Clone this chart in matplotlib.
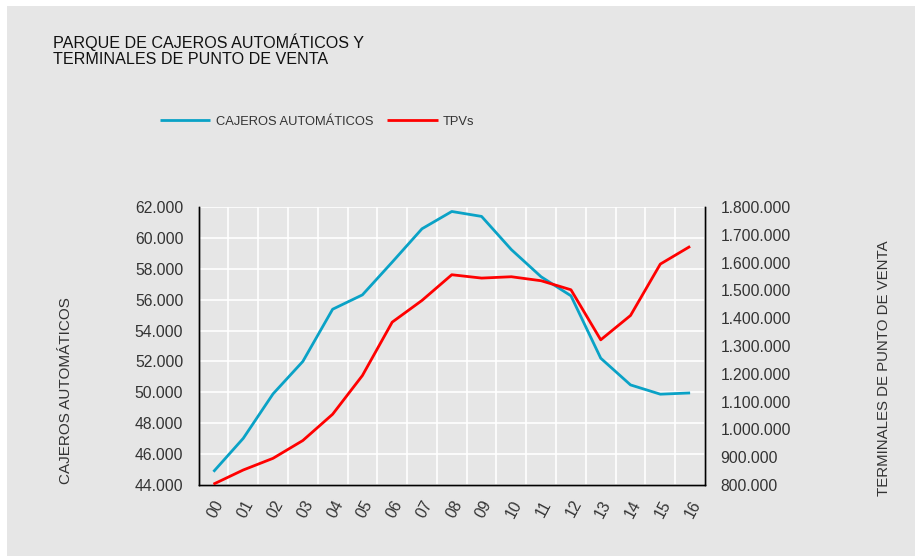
import matplotlib
matplotlib.use("Agg")
import matplotlib.pyplot as plt
from matplotlib.patches import Rectangle
from matplotlib.ticker import FuncFormatter, MultipleLocator

# Años (2000-2016) y series
years = ['00', '01', '02', '03', '04', '05', '06', '07', '08',
         '09', '10', '11', '12', '13', '14', '15', '16']
cajeros = [44860, 47020, 49900, 52000, 55380, 56310, 58430, 60590, 61710,
           61390, 59240, 57480, 56250, 52210, 50480, 49880, 49960]
tpvs = [803000, 854000, 896000, 960000, 1054500, 1193800, 1385800, 1463900,
        1556300, 1544300, 1549100, 1534700, 1502300, 1322200, 1409800,
        1594700, 1658300]

BG = '#E6E6E6'
TXT = '#333333'
CYAN = '#0AA2C6'
RED = '#FF0000'

plt.rcParams['font.family'] = ['Liberation Sans', 'DejaVu Sans']

fig = plt.figure(figsize=(9.15, 5.56), dpi=100)
fig.patch.set_facecolor('white')
fig.patches.append(Rectangle((7 / 915, 0), 1, 1 - 6 / 556, transform=fig.transFigure,
                             facecolor=BG, edgecolor='none', zorder=-10))

ax = fig.add_axes([0.217, 0.1277, 0.5535, 0.5])
ax.set_facecolor(BG)
ax2 = ax.twinx()

x = range(len(years))
l1, = ax.plot(x, cajeros, color=CYAN, lw=2.0, solid_capstyle='butt', zorder=3)
l2, = ax2.plot(x, tpvs, color=RED, lw=2.0, solid_capstyle='butt', zorder=3)

def miles(v, pos):
    return '{:,.0f}'.format(v).replace(',', '.')

ax.set_xlim(-0.5, len(years) - 0.5)
ax.set_ylim(44000, 62000)
ax.yaxis.set_major_locator(MultipleLocator(2000))
ax.yaxis.set_major_formatter(FuncFormatter(miles))
ax2.set_ylim(800000, 1800000)
ax2.yaxis.set_major_locator(MultipleLocator(100000))
ax2.yaxis.set_major_formatter(FuncFormatter(miles))

ax.set_xticks(list(x))
ax.set_xticklabels(years, rotation=62, ha='right', va='top',
                   rotation_mode='anchor')
ax.xaxis.set_minor_locator(MultipleLocator(1, offset=0.5))

ax.grid(axis='y', which='major', color='white', lw=1.2)
ax.grid(axis='x', which='minor', color='white', lw=1.2)
ax.set_axisbelow(True)

for a in (ax, ax2):
    a.tick_params(which='both', length=0, labelsize=11.3, colors=TXT, pad=11)
    a.spines['top'].set_visible(False)
    for s in ('left', 'right', 'bottom'):
        a.spines[s].set_color('black')
        a.spines[s].set_linewidth(1.0)
ax.tick_params(axis='x', pad=9)

fig.text(53 / 915, 1 - 50 / 556, 'PARQUE DE CAJEROS AUTOMÁTICOS Y\nTERMINALES DE PUNTO DE VENTA',
         fontsize=11.6, color='#111111', va='center', ha='left', linespacing=1.1)

fig.text(66 / 915, 1 - 391 / 556, 'CAJEROS AUTOMÁTICOS', rotation=90,
         fontsize=11, color=TXT, ha='center', va='center')
fig.text(884 / 915, 1 - 368 / 556, 'TERMINALES DE PUNTO DE VENTA', rotation=90,
         fontsize=10.8, color=TXT, ha='center', va='center')

fig.legend([l1, l2], ['CAJEROS AUTOMÁTICOS', 'TPVs'], loc='center left',
           bbox_to_anchor=(160 / 915, 1 - 122 / 556), ncol=2, frameon=False,
           fontsize=9.3, labelcolor=TXT, handlelength=3.9, handletextpad=0.4,
           columnspacing=1.1, borderaxespad=0, borderpad=0)

fig.savefig('out.png', dpi=100, facecolor=fig.get_facecolor())
